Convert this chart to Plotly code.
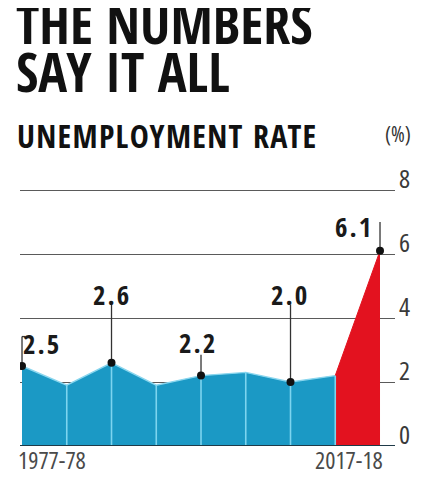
import plotly.graph_objects as go

# ---- data ----
years = ["1977-78", "1983", "1987-88", "1993-94", "1999-2000", "2004-05", "2009-10", "2011-12", "2017-18"]
rates = [2.5, 1.9, 2.6, 1.9, 2.2, 2.3, 2.0, 2.2, 6.1]
labelled = [0, 2, 4, 6, 8]
y_ticks = [0, 2, 4, 6, 8]
x_tick_labels = ["1977-78", "2017-18"]

# ---- layout geometry (pixels; page body adds an 8px offset) ----
OFF = 8
W, H = 428 - OFF, 478 - OFF
ML, MR, MT, MB = 20 - OFF, 428 - 395, 180 - OFF, 478 - 446
PW, PH = W - ML - MR, H - MT - MB
XR = [-0.045, 8.335]
YR = [0, PH / 32.0]


def pxp(x, y):
    """reference pixel -> paper coords"""
    return (x - OFF - ML) / PW, (H - MB - (y - OFF)) / PH


def light(s, extra=""):
    return ("<span style=\"font-family:'Open Sans';font-stretch:condensed;"
            f"font-weight:400;{extra}\">{s}</span>")


xs = list(range(len(years)))
BLUE = "#1b99c5"
RED = "#e3121f"
LIGHT = "#7dd4ef"
COND = "Open Sans Condensed, Roboto Condensed, DejaVu Sans Condensed, sans-serif"

fig = go.Figure()

# blue area (all but last survey)
fig.add_trace(go.Scatter(
    x=xs[:-1], y=rates[:-1], mode="lines", fill="tozeroy",
    fillcolor=BLUE, line=dict(color="#8ad6ee", width=1.4),
    hoverinfo="skip", showlegend=False))

# red area (last jump)
fig.add_trace(go.Scatter(
    x=xs[-2:], y=rates[-2:], mode="lines", fill="tozeroy",
    fillcolor=RED, line=dict(color=RED, width=1),
    hoverinfo="skip", showlegend=False))

# light vertical separators
vx, vy = [], []
for i in xs[1:-1]:
    vx += [i, i, None]
    vy += [0, rates[i], None]
fig.add_trace(go.Scatter(x=vx, y=vy, mode="lines",
                         line=dict(color=LIGHT, width=1.6),
                         hoverinfo="skip", showlegend=False))

# callout label positions (data units)
label_pos = {0: (0.45, 3.2), 2: (2.0, 4.72), 4: (3.93, 3.25), 6: (5.99, 4.72), 8: (7.42, 6.86)}
leader_top = {0: 3.42, 2: 4.42, 4: 2.85, 6: 4.42, 8: 7.0}

lx, ly = [], []
for i in labelled:
    lx += [i, i, None]
    ly += [rates[i], leader_top[i], None]
lx += [0, 0.07, None]
ly += [leader_top[0], leader_top[0], None]
fig.add_trace(go.Scatter(x=lx, y=ly, mode="lines",
                         line=dict(color="#333333", width=1.3),
                         hoverinfo="skip", showlegend=False))

fig.add_trace(go.Scatter(
    x=[xs[i] for i in labelled], y=[rates[i] for i in labelled],
    mode="markers", marker=dict(color="#111111", size=8),
    hoverinfo="skip", showlegend=False))

annotations = []
for i in labelled:
    x, y = label_pos[i]
    annotations.append(dict(
        x=x, y=y, xref="x", yref="y",
        text=f"<span style='letter-spacing:2px'>{rates[i]:.1f}</span>", showarrow=False,
        xanchor="center", yanchor="middle",
        font=dict(family=COND, size=27, color="#1a1a1a", weight="bold")))

# y tick labels (above right end of gridlines)
for t in y_ticks:
    annotations.append(dict(
        x=1.0, y=t, xref="paper", yref="y", text=light(t), showarrow=False,
        xanchor="left", yanchor="middle", xshift=2, yshift=12,
        font=dict(family="Open Sans", size=26, color="#3a3a3a")))

# x labels
annotations.append(dict(x=xs[0], y=0, xref="x", yref="y", text=light(x_tick_labels[0]),
                        showarrow=False, xanchor="left", yanchor="top", xshift=-6, yshift=5,
                        font=dict(family="Open Sans", size=24, color="#4a4a4a")))
annotations.append(dict(x=xs[-1], y=0, xref="x", yref="y", text=light(x_tick_labels[1]),
                        showarrow=False, xanchor="right", yanchor="top", xshift=5, yshift=5,
                        font=dict(family="Open Sans", size=24, color="#4a4a4a")))

# titles
tx, ty = pxp(14, 23)
annotations.append(dict(x=tx, y=ty, xref="paper", yref="paper", text="THE NUMBERS",
                        showarrow=False, xanchor="left", yanchor="middle",
                        font=dict(family=COND, size=54, color="#111111", weight="bold")))
tx, ty = pxp(14, 71)
annotations.append(dict(x=tx, y=ty, xref="paper", yref="paper", text="SAY IT ALL",
                        showarrow=False, xanchor="left", yanchor="middle",
                        font=dict(family=COND, size=54, color="#111111", weight="bold")))
tx, ty = pxp(15, 135)
annotations.append(dict(x=tx, y=ty, xref="paper", yref="paper",
                        text="<span style='letter-spacing:1.3px'>UNEMPLOYMENT RATE</span>",
                        showarrow=False, xanchor="left", yanchor="middle",
                        font=dict(family=COND, size=32, color="#111111", weight="bold")))
tx, ty = pxp(398, 134)
annotations.append(dict(x=tx, y=ty, xref="paper", yref="paper", text=light("(%)"),
                        showarrow=False, xanchor="center", yanchor="middle",
                        font=dict(family="Open Sans", size=21, color="#333333")))

fig.update_layout(
    width=W, height=H,
    margin=dict(l=ML, r=MR, t=MT, b=MB, pad=0),
    paper_bgcolor="white", plot_bgcolor="white",
    xaxis=dict(range=XR, showgrid=False, zeroline=False, showticklabels=False,
               showline=False, ticks="", fixedrange=True),
    yaxis=dict(range=YR, tickvals=y_ticks, showgrid=True, gridcolor="#5a5a5a",
               gridwidth=1.2, zeroline=False, showticklabels=False, ticks="",
               showline=False, fixedrange=True),
    annotations=annotations,
    shapes=[dict(type="line", xref="paper", yref="y", x0=0, x1=1, y0=0, y1=0,
                 line=dict(color="#1f3a48", width=2), layer="above")],
)

fig.write_html("out.html")
